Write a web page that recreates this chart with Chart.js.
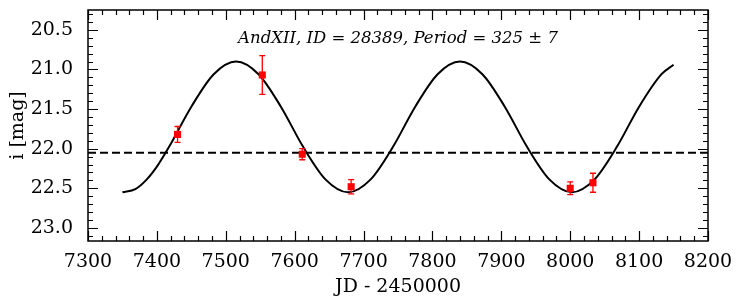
<!DOCTYPE html>
<html>
<head>
<meta charset="utf-8">
<script src="https://cdn.jsdelivr.net/npm/chart.js@4"></script>
<style>
  html, body { margin: 0; padding: 0; background: #fff; }
  #wrap { width: 740px; height: 306px; }
</style>
</head>
<body>
<div id="wrap"><canvas id="lc"></canvas></div>
<script>
// observed epochs (JD - 2450000), i magnitudes and errors
var obsJD = [7430, 7553, 7611, 7682, 8000, 8033];
var obsMag = [21.82, 21.07, 22.07, 22.48, 22.50, 22.43];
var obsErr = [0.10, 0.245, 0.07, 0.09, 0.08, 0.12];

var curveJD = [7350, 7368.75, 7385, 7401.25, 7417.5, 7450, 7482.5, 7515, 7547.5, 7580, 7612.5, 7645,
               7677.5, 7710, 7742.5, 7775, 7807.5, 7840, 7872.5, 7905, 7937.5, 7970,
               8002.5, 8035, 8067.5, 8100, 8132.5, 8150];
var curveMag = [22.55, 22.51, 22.39, 22.21, 21.98, 21.47, 21.06, 20.90, 21.06, 21.47, 21.98, 22.39,
                22.55, 22.39, 21.98, 21.47, 21.06, 20.90, 21.06, 21.47, 21.98, 22.39,
                22.55, 22.39, 21.98, 21.47, 21.06, 20.94];

// mean magnitude line
var meanJD = [7300, 8200];
var meanMag = [22.05, 22.05];

var xTicks = [7300, 7400, 7500, 7600, 7700, 7800, 7900, 8000, 8100, 8200];
var yTicks = [20.5, 21.0, 21.5, 22.0, 22.5, 23.0];
var titleText = 'AndXII, ID = 28389, Period = 325 \u00b1 7';

var serif = '"DejaVu Serif", serif';

function pts(xs, ys) {
    return xs.map(function (x, i) { return {x: x, y: ys[i]}; });
}

var framePlugin = {
    id: 'frame',
    afterDatasetDraw: function (chart, args) {
        // error bars go under the markers, over the curve
        if (args.index !== 1) { return; }
        var ctx = chart.ctx, xs = chart.scales.x, ys = chart.scales.y;
        ctx.save();
        ctx.strokeStyle = '#ff0000';
        ctx.lineWidth = 1.3;
        obsJD.forEach(function (jd, i) {
            var px = xs.getPixelForValue(jd),
                lo = ys.getPixelForValue(obsMag[i] - obsErr[i]),
                hi = ys.getPixelForValue(obsMag[i] + obsErr[i]);
            ctx.beginPath();
            ctx.moveTo(px, lo); ctx.lineTo(px, hi);
            ctx.moveTo(px - 3, lo); ctx.lineTo(px + 3, lo);
            ctx.moveTo(px - 3, hi); ctx.lineTo(px + 3, hi);
            ctx.stroke();
        });
        ctx.restore();
    },
    afterDraw: function (chart) {
        var ctx = chart.ctx, a = chart.chartArea,
            xs = chart.scales.x, ys = chart.scales.y, v, p;
        ctx.save();
        ctx.strokeStyle = '#000';
        ctx.lineWidth = 1.2;
        ctx.beginPath();
        // x ticks, bottom and top
        for (v = 7300; v <= 8200; v += 20) {
            p = Math.round(xs.getPixelForValue(v)) + 0.5;
            var lx = (v % 100 === 0) ? 10 : 5;
            ctx.moveTo(p, a.bottom); ctx.lineTo(p, a.bottom - lx);
            ctx.moveTo(p, a.top); ctx.lineTo(p, a.top + lx);
        }
        // y ticks, left and right
        for (v = 203; v <= 231; v += 1) {
            p = Math.round(ys.getPixelForValue(v / 10)) + 0.5;
            var ly = (v % 5 === 0) ? 10 : 5;
            ctx.moveTo(a.left, p); ctx.lineTo(a.left + ly, p);
            ctx.moveTo(a.right, p); ctx.lineTo(a.right - ly, p);
        }
        ctx.stroke();
        ctx.lineWidth = 1.5;
        ctx.strokeRect(a.left, a.top, a.right - a.left, a.bottom - a.top);

        ctx.fillStyle = '#000';
        ctx.font = 'italic 16.5px ' + serif;
        ctx.textAlign = 'center';
        ctx.textBaseline = 'middle';
        ctx.fillText(titleText, (a.left + a.right) / 2, a.top + 29);
        ctx.restore();
    }
};

new Chart(document.getElementById('lc'), {
    type: 'scatter',
    data: {
        datasets: [
            {
                data: pts(obsJD, obsMag),
                pointStyle: 'rect',
                pointRadius: 5,
                backgroundColor: '#ff0000',
                borderColor: '#ff0000',
                borderWidth: 0,
                showLine: false
            },
            {
                data: pts(curveJD, curveMag),
                showLine: true,
                borderColor: '#000',
                borderWidth: 2,
                pointRadius: 0,
                cubicInterpolationMode: 'monotone'
            },
            {
                data: pts(meanJD, meanMag),
                showLine: true,
                borderColor: '#000',
                borderWidth: 2,
                borderDash: [8, 4],
                pointRadius: 0
            }
        ]
    },
    options: {
        responsive: true,
        maintainAspectRatio: false,
        animation: false,
        events: [],
        layout: {padding: {top: 10, right: 32, left: 0, bottom: 0}},
        plugins: {legend: {display: false}, tooltip: {enabled: false}},
        scales: {
            x: {
                type: 'linear',
                min: 7300,
                max: 8200,
                grid: {display: false, drawTicks: false},
                border: {display: false},
                afterBuildTicks: function (s) { s.ticks = xTicks.map(function (v) { return {value: v}; }); },
                afterFit: function (s) { s.height = 65; s.paddingLeft = 0; s.paddingRight = 0; },
                ticks: {
                    color: '#000',
                    padding: 10,
                    maxRotation: 0,
                    font: {family: serif, size: 19},
                    callback: function (v) { return String(v); }
                },
                title: {
                    display: true,
                    text: 'JD - 2450000',
                    color: '#000',
                    font: {family: serif, size: 19},
                    padding: {top: 0, bottom: 8}
                }
            },
            y: {
                type: 'linear',
                reverse: true,
                min: 20.25,
                max: 23.165,
                grid: {display: false, drawTicks: false},
                border: {display: false},
                afterBuildTicks: function (s) { s.ticks = yTicks.map(function (v) { return {value: v}; }); },
                afterFit: function (s) { s.width = 88; s.paddingTop = 0; s.paddingBottom = 0; },
                ticks: {
                    color: '#000',
                    padding: 15,
                    font: {family: serif, size: 19},
                    callback: function (v) { return v.toFixed(1); }
                },
                title: {
                    display: true,
                    text: 'i [mag]',
                    color: '#000',
                    font: {family: serif, size: 19},
                    padding: {top: 7, bottom: 0}
                }
            }
        }
    },
    plugins: [framePlugin]
});
</script>
</body>
</html>
